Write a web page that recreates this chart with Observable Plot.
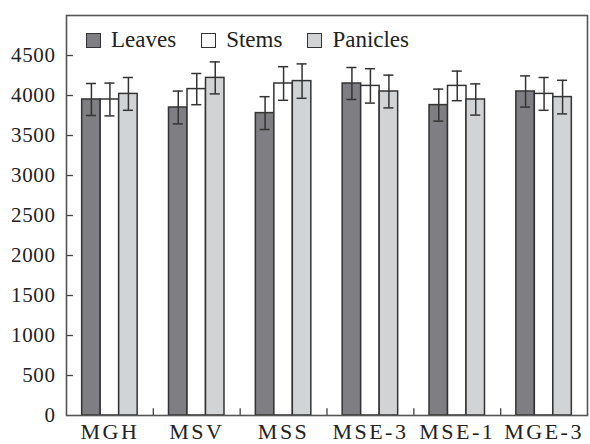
<!DOCTYPE html>
<html><head><meta charset="utf-8">
<script src="https://cdn.jsdelivr.net/npm/d3@7"></script>
<script src="https://cdn.jsdelivr.net/npm/@observablehq/plot@0.6"></script>
<style>
body{margin:0;background:#fff;font-family:serif}
#wrap{position:relative;width:590px;height:444px}
#legend{position:absolute;left:86px;top:28px;display:flex;font-size:23px;color:#222;line-height:24px}
.item{display:flex;align-items:center;margin-right:25px}
.sw{width:13px;height:13px;border:1.5px solid #333;margin-right:10px}
svg [aria-label="x-axis tick label"] text{letter-spacing:2.5px}
svg [aria-label="y-axis tick label"] text{letter-spacing:0.6px}
</style></head>
<body><div id="wrap"><div id="chart"></div><div id="legend"></div></div>
<script>
const groups = ["MGH","MSV","MSS","MSE-3","MSE-1","MGE-3"];
const series = ["Leaves","Stems","Panicles"];
const colors = ["#7f7f83","#ffffff","#d2d3d5"];
const leaves = [3950,3850,3780,4150,3880,4050];
const stems = [3950,4080,4150,4120,4120,4020];
const panicles = [4020,4220,4180,4050,3950,3980];
const leavesErr = [200,205,205,200,200,195];
const stemsErr = [205,195,210,215,185,205];
const paniclesErr = [205,200,215,205,195,210];
const yTicks = [0,500,1000,1500,2000,2500,3000,3500,4000,4500];

const vals = [leaves, stems, panicles];
const errs = [leavesErr, stemsErr, paniclesErr];
const bw = 0.213, cap = 0.058;
const rows = [];
groups.forEach((g, gi) => series.forEach((s, si) => {
  const x1 = gi + 0.5 + (si - 1.5) * bw;
  rows.push({g, s, x1, x2: x1 + bw, cx: x1 + bw / 2, v: vals[si][gi], e: errs[si][gi]});
}));

const plot = Plot.plot({
  width: 590, height: 444,
  marginLeft: 66, marginRight: 3, marginTop: 15, marginBottom: 29,
  style: {fontFamily: "serif", color: "#222", background: "#fff"},
  x: {domain: [0, 6], label: null},
  y: {domain: [0, 5000], label: null},
  color: {domain: series, range: colors},
  marks: [
    Plot.rectY(rows, {x1: "x1", x2: "x2", y: "v", fill: "s", stroke: "#333", strokeWidth: 1.5}),
    Plot.ruleX(rows, {x: "cx", y1: d => d.v - d.e, y2: d => d.v + d.e, stroke: "#333", strokeWidth: 1.5}),
    Plot.ruleY(rows, {y: d => d.v + d.e, x1: d => d.cx - cap, x2: d => d.cx + cap, stroke: "#333", strokeWidth: 1.5}),
    Plot.ruleY(rows, {y: d => d.v - d.e, x1: d => d.cx - cap, x2: d => d.cx + cap, stroke: "#333", strokeWidth: 1.5}),
    Plot.ruleY(yTicks.filter(d => d > 0), {x1: 0, x2: 0.08, stroke: "#444", strokeWidth: 1.3}),
    Plot.ruleX([1, 2, 3, 4, 5], {y1: 0, y2: 85, stroke: "#444", strokeWidth: 1.3}),
    Plot.frame({stroke: "#555", strokeWidth: 1.6}),
    Plot.axisY(yTicks, {label: null, tickSize: 0, tickPadding: 11, fontSize: 21, tickFormat: d => String(d)}),
    Plot.axisX(groups.map((g, i) => i + 0.5), {label: null, tickSize: 0, tickPadding: 8, fontSize: 22, tickFormat: d => groups[Math.floor(d)]})
  ]
});
document.getElementById("chart").appendChild(plot);

const legend = document.getElementById("legend");
series.forEach((s, i) => {
  const it = document.createElement("div"); it.className = "item";
  const sw = document.createElement("div"); sw.className = "sw"; sw.style.background = colors[i];
  const t = document.createElement("span"); t.textContent = s;
  it.appendChild(sw); it.appendChild(t); legend.appendChild(it);
});
</script></body></html>
